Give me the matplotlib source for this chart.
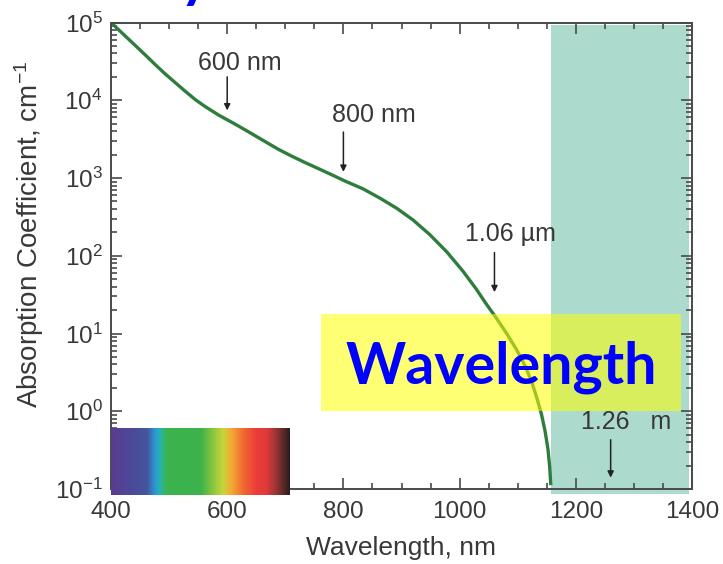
import numpy as np
import matplotlib
matplotlib.use("Agg")
import matplotlib.pyplot as plt
from matplotlib.colors import LinearSegmentedColormap
from matplotlib.patches import Rectangle
from matplotlib.ticker import FixedLocator, MultipleLocator, LogLocator, NullFormatter

# ---------------- data ----------------
wavelength_nm = [400, 424, 441, 458, 476, 493, 510, 527, 545, 562, 585, 602, 619, 642,
                 665, 688, 711, 734, 757, 780, 803, 834, 863, 892, 920, 949, 978,
                 1006, 1029, 1045, 1064, 1081, 1098, 1113, 1124, 1133, 1141, 1147,
                 1152, 1155, 1157]
absorption = [1.0e5, 6.76e4, 5.13e4, 3.89e4, 2.88e4, 2.19e4, 1.70e4, 1.32e4, 1.02e4,
              8.3e3, 6.46e3, 5.5e3, 4.68e3, 3.72e3, 2.95e3, 2.34e3, 1.91e3, 1.58e3,
              1.32e3, 1.10e3, 912, 724, 550, 407, 288, 186, 112, 63, 37, 24.5, 15.5,
              10.0, 6.2, 3.8, 2.4, 1.48, 0.91, 0.56, 0.33, 0.195, 0.112]

x_ticks = [400, 600, 800, 1000, 1200, 1400]
x_tick_labels = ["400", "600", "800", "1000", "1200", "1400"]
y_ticks = [1e-1, 1e0, 1e1, 1e2, 1e3, 1e4, 1e5]
y_tick_labels = ["10$^{-1}$", "10$^{0}$", "10$^{1}$", "10$^{2}$", "10$^{3}$", "10$^{4}$", "10$^{5}$"]

# annotations: label, text position (x, y), arrow tail y, arrow tip (x, y)
ann_labels = ["600 nm", "800 nm", "1.06 \u00b5m", "1.26   m"]
ann_text_x = [622, 853, 1088, 1286]
ann_text_y = [3.0e4, 6.5e3, 190, 0.72]
ann_arrow_x = [600, 800, 1060, 1260]
ann_tail_y = [2.0e4, 3.9e3, 110, 0.43]
ann_tip_y = [7.4e3, 1.2e3, 34, 0.14]

spectrum_colors = ["#5a3c8f", "#4a4b9b", "#44559f", "#2a9bd6", "#27b5a8", "#3db34d",
                   "#3bb24c", "#8cc63f", "#c8d63a", "#f5a834", "#f06a32", "#ec3b3a",
                   "#e03a3a", "#9a3535", "#2a1e1e"]
spectrum_stops = [0.0, 0.125, 0.2, 0.247, 0.275, 0.312, 0.5, 0.572, 0.628, 0.675,
                  0.74, 0.815, 0.87, 0.925, 1.0]

# ---------------- figure ----------------
W, H = 723, 564
fig = plt.figure(figsize=(W / 100, H / 100), dpi=100)
plt.rcParams["mathtext.default"] = "regular"
FONT = "Liberation Sans"
TXT = "#383838"
SP = "#4a4a4a"

def fx(px):
    return px / W

def fy(py):
    return 1 - py / H

ax_l, ax_r, ax_t, ax_b = 111, 692, 22.5, 489
ax = fig.add_axes([fx(ax_l), fy(ax_b), (ax_r - ax_l) / W, (ax_b - ax_t) / H])
ax.set_xlim(400, 1400)
ax.set_yscale("log")
ax.set_ylim(1e-1, 1e5)

ax.plot(wavelength_nm, absorption, color="#2e7d3c", lw=2.4, zorder=2,
        solid_capstyle="butt", solid_joinstyle="round")

ax.xaxis.set_major_locator(FixedLocator(x_ticks))
ax.set_xticklabels(x_tick_labels)
ax.xaxis.set_minor_locator(MultipleLocator(50))
ax.yaxis.set_major_locator(FixedLocator(y_ticks))
ax.set_yticklabels(y_tick_labels)
ax.yaxis.set_minor_locator(LogLocator(base=10, subs=np.arange(2, 10), numticks=20))
ax.yaxis.set_minor_formatter(NullFormatter())

ax.tick_params(which="both", direction="in", top=True, right=True, color=SP, width=1.2)
ax.tick_params(which="major", length=8)
ax.tick_params(which="minor", length=4.5)
ax.tick_params(axis="y", which="major", labelsize=17.5, labelcolor=TXT, pad=6)
ax.tick_params(axis="x", which="major", labelsize=17.5, labelcolor=TXT, pad=9)
for lab in ax.get_xticklabels() + ax.get_yticklabels():
    lab.set_fontfamily(FONT)
for s in ax.spines.values():
    s.set_color(SP)
    s.set_linewidth(1.4)

ax.set_xlabel("Wavelength, nm", fontsize=19, color=TXT, family=FONT, labelpad=9)
fig.text(fx(29), fy(234), "Absorption Coefficient, cm$^{-1}$", rotation=90,
         fontsize=20, color=TXT, family=FONT, ha="center", va="center")

# annotations
for lab, tx, ty, axx, tail, tip in zip(ann_labels, ann_text_x, ann_text_y,
                                      ann_arrow_x, ann_tail_y, ann_tip_y):
    ax.text(tx, ty, lab, fontsize=18, color=TXT, family=FONT, ha="center",
            va="center", zorder=5)
    ax.annotate("", xy=(axx, tip), xytext=(axx, tail),
                arrowprops=dict(arrowstyle="-|>", color="#222222", lw=1.1,
                                mutation_scale=9, shrinkA=0, shrinkB=0), zorder=5)

# teal shaded region
teal = Rectangle((fx(551), fy(494)), fx(689) - fx(551), fy(25) - fy(494),
                 transform=fig.transFigure, facecolor="#acdacd", edgecolor="none",
                 clip_on=False, zorder=1)
ax.add_patch(teal)

# yellow translucent box
yel = Rectangle((fx(321), fy(411)), fx(681) - fx(321), fy(314) - fy(411),
                transform=fig.transFigure, facecolor="#ffff00", alpha=0.55,
                edgecolor="none", clip_on=False, zorder=6)
ax.add_patch(yel)

# big text, sized to its width in the reference
big = fig.text(fx(501), fy(383), "Wavelength", fontsize=40, fontweight="bold",
               family="Lato", color="#0000ff", ha="center", va="baseline", zorder=7)
fig.canvas.draw()
bb = big.get_window_extent()
big.set_fontsize(40 * 312 / bb.width)

# cut-off title glyph at top
fig.text(fx(195), fy(-4), "y", fontsize=big.get_fontsize(), fontweight="bold",
         family="Lato", color="#0000ff", ha="center", va="baseline")

# visible spectrum strip
sax = fig.add_axes([fx(111), fy(495), fx(290) - fx(111), fy(428) - fy(495)], zorder=3)
cmap = LinearSegmentedColormap.from_list("spec", list(zip(spectrum_stops, spectrum_colors)))
sax.imshow(np.linspace(0, 1, 400)[None, :], aspect="auto", cmap=cmap,
           extent=[0, 1, 0, 1])
sax.set_axis_off()

fig.savefig("out.png", dpi=100)
